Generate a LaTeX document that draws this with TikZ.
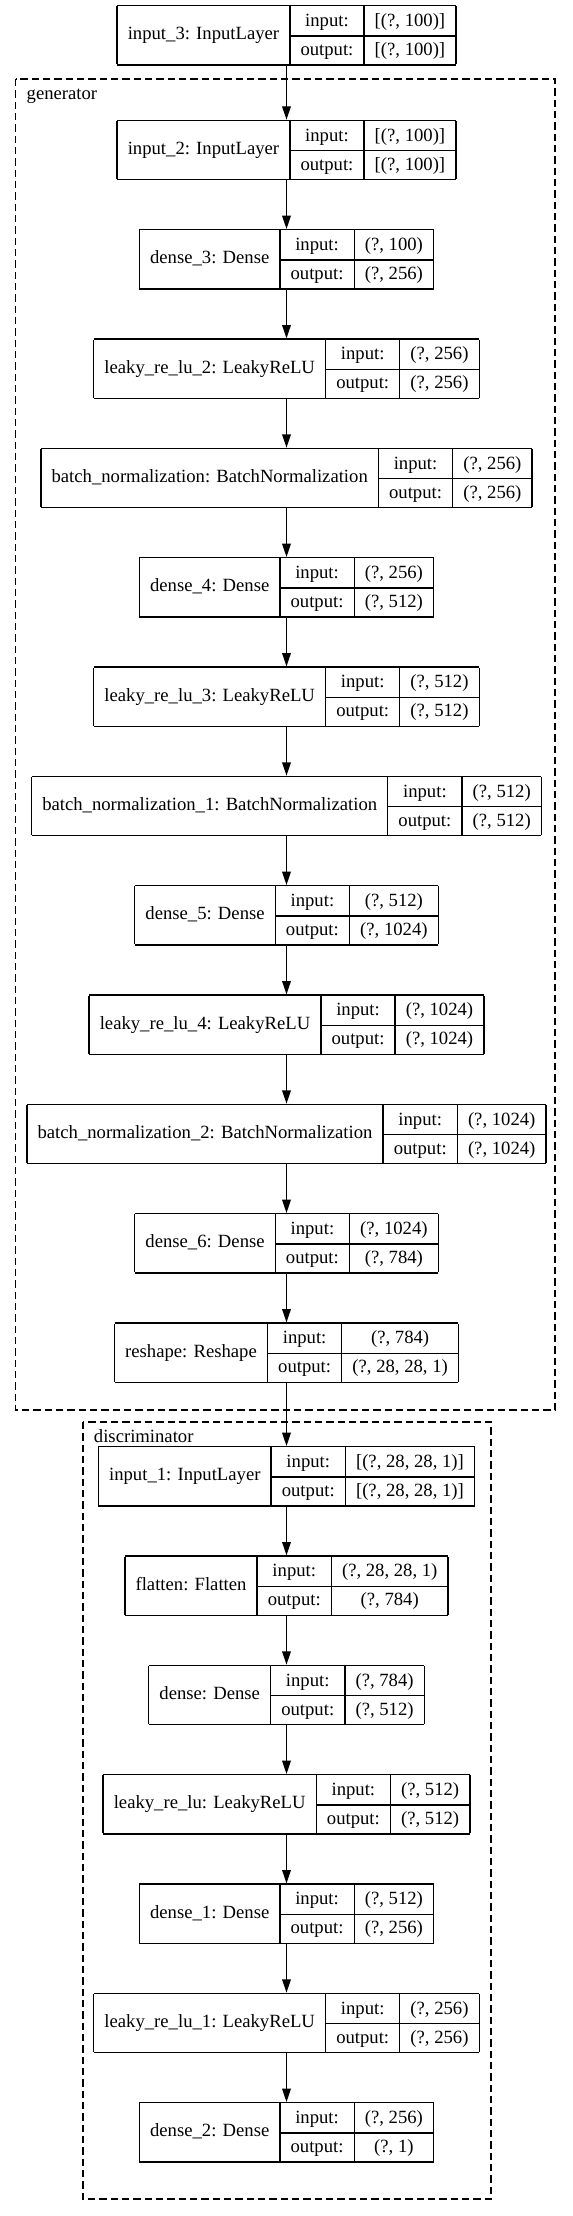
\documentclass[tikz,border=0pt]{standalone}
\usepackage{fontspec}
\setmainfont{Liberation Serif}
\usepackage{multirow}
\usetikzlibrary{arrows.meta,positioning}

\setlength{\tabcolsep}{8pt}
\setlength{\arrayrulewidth}{1pt}
\renewcommand{\arraystretch}{1.2794}
% one keras layer record: name | input:/output: | shapes
\newcommand{\layerrec}[3]{%
  \begin{tabular}{|c|c|c|}\hline
    \multirow{2}{*}{#1} & input: & #2 \\ \cline{2-3}
    & output: & #3 \\ \hline
  \end{tabular}}

\begin{document}
\begin{tikzpicture}[x=0.75pt, y=-0.75pt, >={Triangle[length=10pt,width=6.5pt]}, node distance=36.5pt,
    font=\fontsize{14}{17}\selectfont,
    layerbox/.style={inner sep=0pt, outer sep=0pt},
    cluster/.style={line width=1pt, dash pattern=on 5.5pt off 3pt},
    flow/.style={->, line width=1pt}]
  \fill[white] (0,0) rectangle (573,2216);

  \node[layerbox, anchor=north] (input3) at (286.5,5) {\layerrec{input\_3: InputLayer}{[(?, 100)]}{[(?, 100)]}};

  % generator
  \draw[cluster] (15.7,79) rectangle (555,1410);
  \node[anchor=base west, inner sep=0pt] (genlabel) at (26.4,99) {generator};
  \node[layerbox, below=40.5pt of input3] (input2) {\layerrec{input\_2: InputLayer}{[(?, 100)]}{[(?, 100)]}};
  \node[layerbox, below=of input2] (dense3) {\layerrec{dense\_3: Dense}{(?, 100)}{(?, 256)}};
  \node[layerbox, below=of dense3] (leaky2) {\layerrec{leaky\_re\_lu\_2: LeakyReLU}{(?, 256)}{(?, 256)}};
  \node[layerbox, below=of leaky2] (bn0) {\layerrec{batch\_normalization: BatchNormalization}{(?, 256)}{(?, 256)}};
  \node[layerbox, below=of bn0] (dense4) {\layerrec{dense\_4: Dense}{(?, 256)}{(?, 512)}};
  \node[layerbox, below=of dense4] (leaky3) {\layerrec{leaky\_re\_lu\_3: LeakyReLU}{(?, 512)}{(?, 512)}};
  \node[layerbox, below=of leaky3] (bn1) {\layerrec{batch\_normalization\_1: BatchNormalization}{(?, 512)}{(?, 512)}};
  \node[layerbox, below=of bn1] (dense5) {\layerrec{dense\_5: Dense}{(?, 512)}{(?, 1024)}};
  \node[layerbox, below=of dense5] (leaky4) {\layerrec{leaky\_re\_lu\_4: LeakyReLU}{(?, 1024)}{(?, 1024)}};
  \node[layerbox, below=of leaky4] (bn2) {\layerrec{batch\_normalization\_2: BatchNormalization}{(?, 1024)}{(?, 1024)}};
  \node[layerbox, below=of bn2] (dense6) {\layerrec{dense\_6: Dense}{(?, 1024)}{(?, 784)}};
  \node[layerbox, below=of dense6] (reshape) {\layerrec{reshape: Reshape}{(?, 784)}{(?, 28, 28, 1)}};

  % discriminator
  \draw[cluster] (83,1422) rectangle (491,2199);
  \node[anchor=base west, inner sep=0pt] (dislabel) at (93.7,1442) {discriminator};
  \node[layerbox, below=47.25pt of reshape] (input1) {\layerrec{input\_1: InputLayer}{[(?, 28, 28, 1)]}{[(?, 28, 28, 1)]}};
  \node[layerbox, below=of input1] (flatten) {\layerrec{flatten: Flatten}{(?, 28, 28, 1)}{(?, 784)}};
  \node[layerbox, below=of flatten] (dense0) {\layerrec{dense: Dense}{(?, 784)}{(?, 512)}};
  \node[layerbox, below=of dense0] (leaky0) {\layerrec{leaky\_re\_lu: LeakyReLU}{(?, 512)}{(?, 512)}};
  \node[layerbox, below=of leaky0] (dense1) {\layerrec{dense\_1: Dense}{(?, 512)}{(?, 256)}};
  \node[layerbox, below=of dense1] (leaky1) {\layerrec{leaky\_re\_lu\_1: LeakyReLU}{(?, 256)}{(?, 256)}};
  \node[layerbox, below=of leaky1] (dense2) {\layerrec{dense\_2: Dense}{(?, 256)}{(?, 1)}};

  \draw[flow] (input3.south) -- (input2.north);
  \draw[flow] (input2.south) -- (dense3.north);
  \draw[flow] (dense3.south) -- (leaky2.north);
  \draw[flow] (leaky2.south) -- (bn0.north);
  \draw[flow] (bn0.south) -- (dense4.north);
  \draw[flow] (dense4.south) -- (leaky3.north);
  \draw[flow] (leaky3.south) -- (bn1.north);
  \draw[flow] (bn1.south) -- (dense5.north);
  \draw[flow] (dense5.south) -- (leaky4.north);
  \draw[flow] (leaky4.south) -- (bn2.north);
  \draw[flow] (bn2.south) -- (dense6.north);
  \draw[flow] (dense6.south) -- (reshape.north);
  \draw[flow] (reshape.south) -- (input1.north);
  \draw[flow] (input1.south) -- (flatten.north);
  \draw[flow] (flatten.south) -- (dense0.north);
  \draw[flow] (dense0.south) -- (leaky0.north);
  \draw[flow] (leaky0.south) -- (dense1.north);
  \draw[flow] (dense1.south) -- (leaky1.north);
  \draw[flow] (leaky1.south) -- (dense2.north);
\end{tikzpicture}
\end{document}
